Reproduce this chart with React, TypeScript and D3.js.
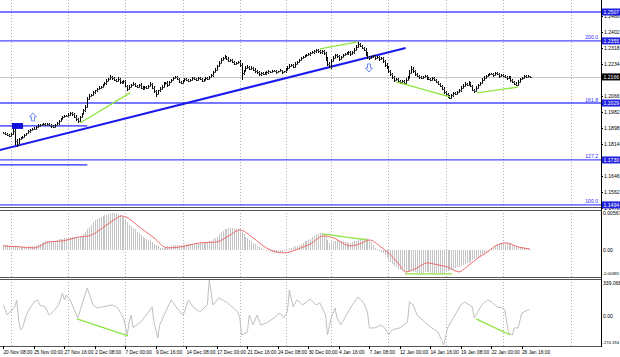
import React from 'react';
import * as d3 from 'd3';

const W = 620;
const H = 357;

// ---- price data (H4 bars, 20 Nov 08:00 .. 27 Jan) ----
const firstOpen = 1.1872;
const closes = [
  1.1870, 1.1866, 1.1862, 1.1857,
  1.1865, 1.1880, 1.1830, 1.1815, 1.1838, 1.1845,
  1.1852, 1.1862, 1.1870, 1.1880, 1.1885, 1.1892,
  1.1895, 1.1905, 1.1910, 1.1915, 1.1912, 1.1918,
  1.1915, 1.1920, 1.1916, 1.1908, 1.1902, 1.1912,
  1.1922, 1.1935, 1.1945, 1.1955, 1.1962, 1.1960,
  1.1968, 1.1975, 1.1970, 1.1958, 1.1945, 1.1935,
  1.1955, 1.1972, 1.1990, 1.2010, 1.2050, 1.2068,
  1.2072, 1.2085, 1.2095, 1.2102, 1.2110, 1.2115,
  1.2125, 1.2132, 1.2145, 1.2155, 1.2165, 1.2158,
  1.2150, 1.2145, 1.2155, 1.2140, 1.2135, 1.2145,
  1.2120, 1.2102, 1.2115, 1.2125, 1.2130, 1.2120,
  1.2115, 1.2125, 1.2110, 1.2105, 1.2115, 1.2110,
  1.2120, 1.2130, 1.2110, 1.2090, 1.2078, 1.2095,
  1.2105, 1.2115, 1.2130, 1.2135, 1.2122, 1.2140,
  1.2150, 1.2160, 1.2165, 1.2155, 1.2140, 1.2135,
  1.2145, 1.2155, 1.2150, 1.2145, 1.2150, 1.2160,
  1.2155, 1.2150, 1.2160, 1.2155, 1.2145, 1.2150,
  1.2160, 1.2155, 1.2165, 1.2175, 1.2190, 1.2205,
  1.2222, 1.2240, 1.2255, 1.2265, 1.2272, 1.2262,
  1.2252, 1.2256, 1.2246, 1.2236, 1.2240, 1.2245,
  1.2230, 1.2185, 1.2198, 1.2215, 1.2220, 1.2210,
  1.2215, 1.2205, 1.2195, 1.2190, 1.2180, 1.2185,
  1.2180, 1.2185, 1.2190, 1.2195, 1.2192, 1.2198,
  1.2195, 1.2190, 1.2195, 1.2200, 1.2190, 1.2195,
  1.2205, 1.2215, 1.2225, 1.2230, 1.2220, 1.2235,
  1.2245, 1.2255, 1.2265, 1.2270, 1.2275, 1.2280,
  1.2285, 1.2290, 1.2295, 1.2300, 1.2305, 1.2300,
  1.2295, 1.2300, 1.2290, 1.2262, 1.2235, 1.2220,
  1.2250, 1.2265, 1.2280, 1.2275, 1.2260, 1.2270,
  1.2280, 1.2285, 1.2290, 1.2295, 1.2285, 1.2295,
  1.2310, 1.2325, 1.2338, 1.2330, 1.2320, 1.2310,
  1.2290, 1.2270, 1.2265, 1.2270, 1.2275, 1.2265,
  1.2270, 1.2260, 1.2265, 1.2250, 1.2230, 1.2215,
  1.2195, 1.2180, 1.2165, 1.2150, 1.2155, 1.2145,
  1.2140, 1.2145, 1.2135, 1.2150, 1.2160, 1.2185,
  1.2210, 1.2195, 1.2180, 1.2170, 1.2165, 1.2160,
  1.2165, 1.2170, 1.2160, 1.2155, 1.2150, 1.2160,
  1.2150, 1.2140, 1.2130, 1.2120, 1.2105, 1.2085,
  1.2075, 1.2065, 1.2058, 1.2070, 1.2080, 1.2075,
  1.2085, 1.2095, 1.2110, 1.2120, 1.2130, 1.2125,
  1.2135, 1.2120, 1.2100, 1.2092, 1.2110, 1.2125,
  1.2135, 1.2150, 1.2160, 1.2170, 1.2175, 1.2180,
  1.2180, 1.2175, 1.2185, 1.2180, 1.2170, 1.2175,
  1.2170, 1.2165, 1.2160, 1.2165, 1.2150, 1.2140,
  1.2130, 1.2125, 1.2140, 1.2155, 1.2160, 1.2170,
  1.2165, 1.2170, 1.2166,
];
// wick lengths above / below the body, in pips
const wickHi = [
  6, 5, 4, 6,
  8, 25, 20, 8, 6, 7,   5, 6, 4, 7, 5, 6,   6, 5, 7, 4, 6, 5,   4, 5, 6, 4, 5, 6,   6, 5, 7, 6, 5, 4,
  6, 8, 5, 4, 6, 5,   7, 6, 8, 9, 10, 8,   6, 7, 5, 6, 8, 5,   6, 7, 8, 6, 9, 7,   8, 6, 10, 7, 5, 6,
  5, 6, 8, 5, 7, 6,   6, 5, 7, 6, 5, 4,   6, 8, 5, 6, 7, 5,   6, 7, 8, 6, 9, 7,   6, 7, 8, 5, 6, 5,
  6, 5, 7, 6, 5, 6,   5, 6, 7, 5, 6, 5,   5, 6, 7, 8, 9, 10,   8, 9, 10, 8, 7, 6,   7, 6, 5, 6, 5, 6,
  8, 10, 7, 6, 8, 5,   6, 5, 7, 6, 5, 6,   5, 6, 5, 6, 4, 5,   4, 5, 4, 6, 5, 4,
  6, 7, 8, 6, 5, 7,   6, 7, 8, 6, 5, 7,   7, 6, 8, 7, 9, 6,   6, 7, 5, 6, 8, 7,
  12, 10, 8, 9, 7, 6,   6, 7, 8, 6, 9, 7,   8, 9, 11, 7, 6, 5,   6, 8, 7, 6, 5, 7,   8, 6, 7, 5, 6, 7,
  8, 6, 7, 5, 6, 7,   6, 7, 5, 8, 9, 15,   15, 8, 6, 7, 5, 6,   7, 6, 8, 5, 6, 7,   6, 5, 7, 6, 5, 6,
  5, 6, 4, 7, 8, 6,   6, 7, 8, 9, 7, 6,   8, 7, 6, 5, 7, 6,   7, 8, 9, 7, 6, 8,   6, 7, 8, 6, 5, 6,
  5, 6, 7, 5, 6, 5,   6, 7, 8, 6, 7, 5,   5, 4, 3,
];
const wickLo = [
  5, 6, 7, 5,
  6, 5, 20, 15, 6, 5,   6, 5, 7, 4, 6, 5,   5, 6, 4, 7, 5, 6,   6, 5, 7, 8, 6, 5,   5, 6, 4, 5, 6, 7,
  5, 6, 7, 8, 9, 10,   6, 5, 7, 6, 8, 7,   6, 5, 7, 6, 5, 6,   5, 6, 7, 5, 6, 8,   7, 8, 6, 9, 7, 6,
  8, 12, 6, 7, 5, 6,   6, 7, 5, 8, 6, 7,   5, 6, 7, 8, 16, 6,   7, 6, 5, 7, 8, 6,   6, 5, 7, 6, 8, 7,
  6, 7, 5, 6, 7, 5,   6, 5, 7, 6, 8, 6,   5, 6, 5, 6, 7, 5,   6, 5, 7, 6, 5, 8,   7, 6, 8, 9, 6, 7,
  10, 35, 8, 6, 7, 8,   6, 7, 8, 6, 9, 7,   6, 5, 7, 6, 5, 6,   5, 6, 4, 5, 6, 5,
  6, 5, 7, 6, 8, 5,   6, 5, 6, 7, 5, 6,   6, 7, 5, 6, 7, 8,   7, 6, 8, 10, 12, 8,
  10, 8, 7, 9, 8, 6,   7, 6, 5, 7, 8, 6,   6, 7, 5, 8, 9, 10,   12, 10, 8, 6, 7, 8,   6, 8, 7, 9, 10, 9,
  10, 9, 8, 10, 7, 8,   9, 7, 8, 6, 7, 6,   6, 8, 7, 6, 8, 7,   6, 7, 8, 6, 7, 6,   7, 8, 6, 9, 10, 8,
  7, 8, 6, 5, 7, 6,   6, 5, 7, 6, 5, 7,   6, 8, 9, 8, 6, 5,   7, 6, 5, 7, 6, 5,   6, 7, 5, 6, 8, 6,
  6, 7, 8, 6, 9, 8,   7, 8, 6, 5, 6, 7,   5, 6, 4,
];

// ---- MACD main (histogram) per bar ----
const macdHist = [
  0.0007, 0.0007, 0.0007, 0.0006,
  0.0006, 0.0006, 0.0005, 0.0004, 0.0004, 0.0004,
  0.0004, 0.0004, 0.0004, 0.0005, 0.0005, 0.0005,
  0.0006, 0.0007, 0.0008, 0.0009, 0.0010, 0.0011,
  0.0012, 0.0012, 0.0013, 0.0013, 0.0013, 0.0013,
  0.0014, 0.0015, 0.0015, 0.0016, 0.0017, 0.0017,
  0.0018, 0.0019, 0.0019, 0.0019, 0.0019, 0.0018,
  0.0019, 0.0020, 0.0022, 0.0025, 0.0029, 0.0033,
  0.0036, 0.0039, 0.0042, 0.0044, 0.0046, 0.0047,
  0.0048, 0.0049, 0.0050, 0.0051, 0.0052, 0.0053,
  0.0053, 0.0052, 0.0051, 0.0050, 0.0048, 0.0047,
  0.0043, 0.0040, 0.0036, 0.0034, 0.0031, 0.0029,
  0.0026, 0.0024, 0.0021, 0.0019, 0.0017, 0.0015,
  0.0014, 0.0013, 0.0011, 0.0009, 0.0007, 0.0005,
  0.0003, 0.0002, 0.0003, 0.0004, 0.0005, 0.0005,
  0.0006, 0.0007, 0.0007, 0.0007, 0.0007, 0.0007,
  0.0007, 0.0007, 0.0008, 0.0008, 0.0008, 0.0008,
  0.0009, 0.0009, 0.0009, 0.0010, 0.0010, 0.0010,
  0.0011, 0.0011, 0.0012, 0.0013, 0.0015, 0.0017,
  0.0019, 0.0022, 0.0025, 0.0027, 0.0029, 0.0030,
  0.0031, 0.0031, 0.0031, 0.0031, 0.0030, 0.0030,
  0.0028, 0.0025, 0.0022, 0.0019, 0.0017, 0.0014,
  0.0012, 0.0010, 0.0008, 0.0006, 0.0004, 0.0002,
  0.0001, 0.0000, -0.0001, -0.0002, -0.0003, -0.0003,
  -0.0004, -0.0004, -0.0004, -0.0003, -0.0003, -0.0002,
  -0.0001, 0.0000, 0.0002, 0.0003, 0.0004, 0.0005,
  0.0006, 0.0007, 0.0009, 0.0010, 0.0012, 0.0013,
  0.0014, 0.0016, 0.0018, 0.0020, 0.0022, 0.0023,
  0.0024, 0.0024, 0.0021, 0.0018, 0.0014, 0.0010,
  0.0011, 0.0012, 0.0013, 0.0014, 0.0013, 0.0012,
  0.0012, 0.0011, 0.0011, 0.0010, 0.0010, 0.0011,
  0.0012, 0.0013, 0.0015, 0.0016, 0.0017, 0.0017,
  0.0017, 0.0016, 0.0014, 0.0011, 0.0007, 0.0003,
  0.0001, -0.0001, -0.0003, -0.0005, -0.0007, -0.0010,
  -0.0014, -0.0017, -0.0020, -0.0023, -0.0025, -0.0027,
  -0.0028, -0.0029, -0.0030, -0.0031, -0.0031, -0.0030,
  -0.0030, -0.0031, -0.0032, -0.0033, -0.0033, -0.0033,
  -0.0033, -0.0032, -0.0032, -0.0032, -0.0033, -0.0033,
  -0.0033, -0.0033, -0.0033, -0.0034, -0.0034, -0.0033,
  -0.0032, -0.0030, -0.0029, -0.0028, -0.0027, -0.0026,
  -0.0025, -0.0024, -0.0023, -0.0022, -0.0020, -0.0019,
  -0.0018, -0.0017, -0.0015, -0.0013, -0.0011, -0.0010,
  -0.0008, -0.0006, -0.0005, -0.0003, -0.0002, 0.0000,
  0.0002, 0.0004, 0.0006, 0.0007, 0.0008, 0.0009,
  0.0010, 0.0010, 0.0010, 0.0009, 0.0008, 0.0007,
  0.0005, 0.0004, 0.0004, 0.0004, 0.0004, 0.0003,
  0.0003, 0.0002, 0.0001,
];

// ---- MACD signal line (bar, value) ----
const signalBars = [0, 9, 16, 24, 31, 40, 45, 52, 58, 62, 64, 72, 79, 86, 93, 103, 112, 119, 124, 131, 138, 147, 156, 161, 168, 173, 182, 187, 192, 198, 202, 207, 211, 217, 222, 228, 233, 239, 243, 249, 254, 259, 264, 270, 276];
const signalVals = [0.00057, 0.00043, 0.00028, 0.00114, 0.00128, 0.00185, 0.00199, 0.00313, 0.00426, 0.00483, 0.00469, 0.00313, 0.00171, 0.00028, 0.00043, 0.00099, 0.00114, 0.00213, 0.00284, 0.00171, 0.00028, -0.00043, 0.00028, 0.00085, 0.00199, 0.00171, 0.00057, 0.00085, 0.00142, 0.00043, -0.00043, -0.00185, -0.00313, -0.00256, -0.00185, -0.00213, -0.00242, -0.00313, -0.00242, -0.00114, -0.00028, 0.00071, 0.00099, 0.00043, 0.00014];

// ---- CCI (bar, value) ----
const cciBars = [0, 2, 6, 7, 8, 9, 10, 12, 14, 16, 18, 19, 22, 24, 26, 29, 31, 32, 33, 35, 39, 40, 44, 47, 49, 52, 57, 60, 63, 65, 66, 67, 68, 70, 72, 75, 78, 79, 81, 82, 86, 88, 91, 94, 95, 97, 100, 103, 107, 108, 110, 113, 117, 120, 123, 124, 125, 128, 129, 131, 133, 135, 138, 142, 145, 147, 149, 150, 152, 154, 157, 161, 164, 166, 169, 170, 172, 174, 175, 177, 180, 183, 186, 189, 191, 192, 195, 198, 200, 202, 204, 208, 212, 213, 215, 217, 221, 224, 228, 231, 233, 236, 240, 242, 246, 247, 251, 254, 256, 259, 262, 263, 265, 267, 268, 270, 272, 275, 276];
const cciVals = [104, 9, 85, 151, -40, -132, -113, 9, 75, 132, 151, 104, 85, 9, 38, 104, 217, 151, 198, 151, -19, 38, 264, 104, 75, 85, 104, 75, -19, -179, -57, 9, -110, -85, -57, 9, 85, -57, -208, -85, 75, 151, 75, 9, 38, 151, 75, 38, 104, 339, 104, 170, 132, 85, 38, -19, -179, -151, 9, -85, 9, -85, -66, -19, 28, -19, 38, 245, 85, 151, 104, 160, 104, 123, 9, -179, -19, 75, -19, -85, 9, 104, 179, 123, 38, -113, -113, -85, -113, -179, -132, -113, -57, 132, 104, 9, -57, -104, -151, -274, -113, -19, 104, 132, 85, -19, 104, 151, 132, 85, 75, 57, -160, -179, -113, -113, 28, 57, 57];

// ---- axes ----
const priceTicks = [1.2486, 1.2402, 1.2318, 1.2234, 1.2066, 1.1982, 1.1898, 1.1814, 1.1730, 1.1646, 1.1562, 1.1478];
const timeLabelBars = [0, 16, 32, 48, 64, 80, 96, 112, 128, 144, 160, 176, 192, 208, 224, 240, 256, 272];
const timeLabels = ['20 Nov 08:00', '25 Nov 00:00', '27 Nov 16:00', '2 Dec 08:00', '7 Dec 00:00', '9 Dec 16:00', '14 Dec 08:00', '17 Dec 00:00', '21 Dec 16:00', '24 Dec 08:00', '30 Dec 00:00', '4 Jan 16:00', '7 Jan 08:00', '12 Jan 00:00', '14 Jan 16:00', '19 Jan 08:00', '22 Jan 00:00', '26 Jan 16:00'];
const gridBars = [4, 34, 64, 94, 124, 148, 172, 202, 232, 262, 298];
const macdLabels = ['0.00567', '0.00', '-0.00385'];
const cciLabels = ['339.068', '0.00', '-274.194'];

// ---- drawn objects ----
const levelPrices = [1.2507, 1.2355, 1.2029, 1.1730, 1.1494];
const levelNames = ['', '200.0', '161.8', '127.2', '100.0'];
const trendLine = [[-2, 1.1782], [211, 1.2318]];
const shortLines = [[[-2, 44], 1.1909], [[-2, 44], 1.1704]];
const greenPrice = [
  [[40.2, 1.1924], [66.4, 1.2082]],
  [[166, 1.2313], [186, 1.2350]],
  [[206, 1.2140], [234.3, 1.2061]],
  [[248.5, 1.2082], [270, 1.2113]],
];
const greenMacd = [
  [[167.2, 0.00227], [190.8, 0.00142]],
  [[210.7, -0.00341], [235.4, -0.00341]],
];
const greenCci = [
  [[38.6, -28], [65.4, -189]],
  [[248, -28], [265.8, -179]],
];
const boxBars = [4.5, 10.3];
const boxPrices = [1.1924, 1.1893];
const upArrow = [15.5, 1.1956];
const downArrow = [191.8, 1.2213];
const lastPrice = 1.2166;

const FONT = 'Liberation Sans, Arial, sans-serif';
const BLUE = '#2a2aff';
const GREEN = '#8ee53f';
const GRID = '#b0b0b0';
const FS = 5.1;

export default function App() {
  const n = closes.length;
  const x = d3.scaleLinear().domain([0, 276]).range([3.4, 529.5]);
  const px = (i: number) => Math.round(x(i)) + 0.5;
  const yP = d3.scaleLinear().domain([1.1483, 1.2570]).range([207, 0]);
  const yM = d3.scaleLinear().domain([-0.00385, 0.00567]).range([277, 210]);
  const yC = d3.scaleLinear().domain([-274.194, 339.068]).range([345, 280]);
  const axisX = 601;

  const bars = d3.range(n).map((i) => {
    const o = i === 0 ? firstOpen : closes[i - 1];
    const c = closes[i];
    const h = Math.max(o, c) + wickHi[i] / 10000;
    const l = Math.min(o, c) - wickLo[i] / 10000;
    return { i, o, h, l, c };
  });

  const signalLine = d3.line<number>().x((_, k) => x(signalBars[k])).y((v) => yM(v)).curve(d3.curveMonotoneX);
  const cciLine = d3.line<number>().x((_, k) => x(cciBars[k])).y((v) => yC(v));

  const arrowPath = (cx: number, cy: number, up: boolean) => {
    const s = up ? -1 : 1;
    const pts = [
      [cx - 1.5, cy - 4 * s], [cx + 1.5, cy - 4 * s], [cx + 1.5, cy], [cx + 3.5, cy],
      [cx, cy + 4 * s], [cx - 3.5, cy], [cx - 1.5, cy],
    ];
    return 'M' + pts.map((p) => p.join(',')).join('L') + 'Z';
  };

  const labelBox = (y: number, text: string, fill: string, key: string) => (
    <g key={key}>
      <rect x={axisX + 1} y={y - 3.5} width={18} height={7} fill={fill} />
      <text x={axisX + 2.5} y={y + 1.9} fontSize={FS} fill="#fff" fontFamily={FONT}>{text}</text>
    </g>
  );

  return (
    <svg width={W} height={H} style={{ position: 'absolute', left: 0, top: 0, background: '#fff' }}>
      <rect x={0} y={0} width={W} height={H} fill="#fff" />
      <defs>
        <clipPath id="plot"><rect x={0} y={0} width={axisX} height={207} /></clipPath>
      </defs>

      {/* vertical grid */}
      {gridBars.map((b) => (
        <line key={'g' + b} x1={px(b)} x2={px(b)} y1={0} y2={346}
          stroke={GRID} strokeDasharray="1,2" />
      ))}

      {/* horizontal levels */}
      {levelPrices.map((p, k) => (
        <g key={'lv' + k}>
          <line x1={0} x2={axisX} y1={yP(p)} y2={yP(p)} stroke={BLUE} strokeWidth={1.3} opacity={0.85} />
          {levelNames[k] && (
            <text x={598} y={yP(p) - 1.5} fontSize={FS} fill={BLUE} textAnchor="end" fontFamily={FONT}>{levelNames[k]}</text>
          )}
        </g>
      ))}
      {/* last price line */}
      <line x1={0} x2={axisX} y1={Math.round(yP(lastPrice)) + 0.5} y2={Math.round(yP(lastPrice)) + 0.5} stroke="#c8c8c8" strokeWidth={1} />

      <g clipPath="url(#plot)">
        {shortLines.map(([[b0, b1], p], k) => (
          <line key={'sl' + k} x1={x(b0)} x2={x(b1)} y1={yP(p)} y2={yP(p)} stroke={BLUE} strokeWidth={1.3} />
        ))}
        <line x1={x(trendLine[0][0])} y1={yP(trendLine[0][1])} x2={x(trendLine[1][0])} y2={yP(trendLine[1][1])}
          stroke="#1a1aee" strokeWidth={2} />
        {/* OHLC bars */}
        <g stroke="#000" strokeWidth={1} shapeRendering="crispEdges">
          {bars.map((b) => {
            const cx = px(b.i);
            return (
              <g key={'b' + b.i}>
                <line x1={cx} x2={cx} y1={yP(b.h)} y2={yP(b.l)} />
                <line x1={cx - 1} x2={cx} y1={Math.round(yP(b.o)) + 0.5} y2={Math.round(yP(b.o)) + 0.5} stroke="#555" />
                <line x1={cx} x2={cx + 1} y1={Math.round(yP(b.c)) + 0.5} y2={Math.round(yP(b.c)) + 0.5} stroke="#555" />
              </g>
            );
          })}
        </g>
        <rect x={x(boxBars[0])} y={yP(boxPrices[0])} width={x(boxBars[1]) - x(boxBars[0])}
          height={yP(boxPrices[1]) - yP(boxPrices[0])} fill="#1010e0" />
        {greenPrice.map(([a, b], k) => (
          <line key={'gp' + k} x1={x(a[0])} y1={yP(a[1])} x2={x(b[0])} y2={yP(b[1])} stroke={GREEN} strokeWidth={1.3} />
        ))}
        <path d={arrowPath(x(upArrow[0]), yP(upArrow[1]), true)} fill="#fff" stroke="#4a6cf0" strokeWidth={0.8} />
        <path d={arrowPath(x(downArrow[0]), yP(downArrow[1]), false)} fill="#fff" stroke="#4a6cf0" strokeWidth={0.8} />
      </g>

      {/* panel separators */}
      <g stroke="#555" shapeRendering="crispEdges">
        <line x1={0} x2={axisX} y1={207.5} y2={207.5} />
        <line x1={0} x2={axisX} y1={210.5} y2={210.5} />
        <line x1={0} x2={axisX} y1={277.5} y2={277.5} />
        <line x1={0} x2={axisX} y1={279.5} y2={279.5} />
        <line x1={0} x2={axisX} y1={346.5} y2={346.5} />
      </g>

      {/* MACD histogram */}
      <g stroke="#c4c4c4" strokeWidth={1} shapeRendering="crispEdges">
        {macdHist.map((v, i) => (
          <line key={'m' + i} x1={px(i)} x2={px(i)} y1={yM(0)} y2={yM(v)} />
        ))}
      </g>
      <path d={signalLine(signalVals) || ''} fill="none" stroke="#f06a6a" strokeWidth={1} />
      {greenMacd.map(([a, b], k) => (
        <line key={'gm' + k} x1={x(a[0])} y1={yM(a[1])} x2={x(b[0])} y2={yM(b[1])} stroke={GREEN} strokeWidth={1.3} />
      ))}

      {/* CCI */}
      <path d={cciLine(cciVals) || ''} fill="none" stroke="#c0c0c0" strokeWidth={1} />
      {greenCci.map(([a, b], k) => (
        <line key={'gc' + k} x1={x(a[0])} y1={yC(a[1])} x2={x(b[0])} y2={yC(b[1])} stroke={GREEN} strokeWidth={1.3} />
      ))}

      {/* right axis */}
      <line x1={axisX + 0.5} x2={axisX + 0.5} y1={0} y2={347} stroke="#000" />
      {priceTicks.map((p) => (
        <g key={'pt' + p}>
          <line x1={axisX} x2={axisX + 2} y1={Math.round(yP(p)) + 0.5} y2={Math.round(yP(p)) + 0.5} stroke="#000" />
          <text x={axisX + 3} y={yP(p) + 1.9} fontSize={FS} fill="#000" fontFamily={FONT}>{p.toFixed(4)}</text>
        </g>
      ))}
      {levelPrices.map((p, k) => labelBox(yP(p), p.toFixed(4), '#2020e0', 'lb' + k))}
      {labelBox(yP(lastPrice), lastPrice.toFixed(4), '#000', 'last')}

      {/* MACD axis labels */}
      <text x={axisX + 2} y={215} fontSize={FS} fontFamily={FONT}>{macdLabels[0]}</text>
      <text x={axisX + 2} y={yM(0) + 1.9} fontSize={FS} fontFamily={FONT}>{macdLabels[1]}</text>
      <text x={axisX + 1.5} y={275} fontSize={4.2} fontFamily={FONT}>{macdLabels[2]}</text>
      {/* CCI axis labels */}
      <text x={axisX + 2} y={285} fontSize={FS} fontFamily={FONT}>{cciLabels[0]}</text>
      <text x={axisX + 2} y={yC(0) + 1.9} fontSize={FS} fontFamily={FONT}>{cciLabels[1]}</text>
      <text x={axisX + 1.5} y={344} fontSize={4.2} fontFamily={FONT}>{cciLabels[2]}</text>

      {/* time axis */}
      {timeLabelBars.map((b, k) => (
        <g key={'tl' + b}>
          <line x1={px(b)} x2={px(b)} y1={346} y2={349} stroke="#000" />
          <text x={x(b)} y={354} fontSize={4.9} fill="#000" fontFamily={FONT}>{timeLabels[k]}</text>
        </g>
      ))}
    </svg>
  );
}
